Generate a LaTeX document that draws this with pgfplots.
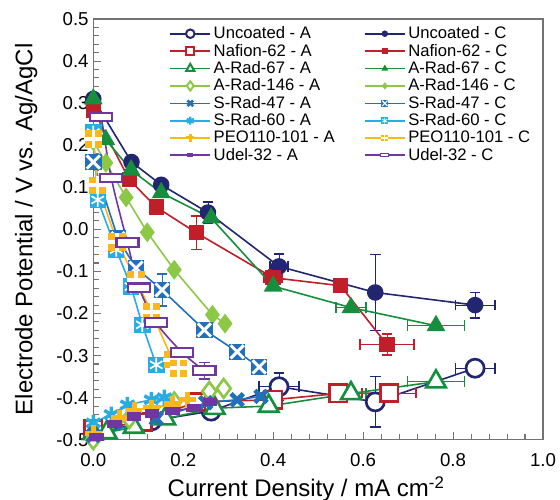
\documentclass[border=0pt]{standalone}
\usepackage{pgfplots}
\pgfplotsset{compat=1.18}
\usepackage{fontspec}
\setmainfont{Liberation Sans}

\definecolor{cUnc}{RGB}{34,38,112}
\definecolor{cNaf}{RGB}{192,30,40}
\definecolor{cA67}{RGB}{22,142,62}
\definecolor{cA146}{RGB}{140,200,70}
\definecolor{cS47}{RGB}{32,112,186}
\definecolor{cS60}{RGB}{40,172,228}
\definecolor{cPEO}{RGB}{250,184,28}
\definecolor{cUdel}{RGB}{112,54,162}

% filled square with a white cross / plus / star cut into it
\pgfdeclareplotmark{sqx}{%
  \pgfpathrectangle{\pgfqpoint{-\pgfplotmarksize}{-\pgfplotmarksize}}{\pgfqpoint{2\pgfplotmarksize}{2\pgfplotmarksize}}%
  \pgfusepathqfill
  \pgfsetstrokecolor{white}\pgfsetlinewidth{0.35\pgfplotmarksize}%
  \pgfpathmoveto{\pgfqpoint{-.8\pgfplotmarksize}{-.8\pgfplotmarksize}}%
  \pgfpathlineto{\pgfqpoint{.8\pgfplotmarksize}{.8\pgfplotmarksize}}%
  \pgfpathmoveto{\pgfqpoint{-.8\pgfplotmarksize}{.8\pgfplotmarksize}}%
  \pgfpathlineto{\pgfqpoint{.8\pgfplotmarksize}{-.8\pgfplotmarksize}}%
  \pgfusepathqstroke}
\pgfdeclareplotmark{sqplus}{%
  \pgfpathrectangle{\pgfqpoint{-\pgfplotmarksize}{-\pgfplotmarksize}}{\pgfqpoint{2\pgfplotmarksize}{2\pgfplotmarksize}}%
  \pgfusepathqfill
  \pgfsetstrokecolor{white}\pgfsetlinewidth{0.4\pgfplotmarksize}%
  \pgfpathmoveto{\pgfqpoint{0pt}{-1.05\pgfplotmarksize}}%
  \pgfpathlineto{\pgfqpoint{0pt}{1.05\pgfplotmarksize}}%
  \pgfpathmoveto{\pgfqpoint{-1.05\pgfplotmarksize}{0pt}}%
  \pgfpathlineto{\pgfqpoint{1.05\pgfplotmarksize}{0pt}}%
  \pgfusepathqstroke}
\pgfdeclareplotmark{sqast}{%
  \pgfpathrectangle{\pgfqpoint{-\pgfplotmarksize}{-\pgfplotmarksize}}{\pgfqpoint{2\pgfplotmarksize}{2\pgfplotmarksize}}%
  \pgfusepathqfill
  \pgfsetstrokecolor{white}\pgfsetlinewidth{0.2\pgfplotmarksize}%
  \pgfpathmoveto{\pgfqpoint{0pt}{-.85\pgfplotmarksize}}%
  \pgfpathlineto{\pgfqpoint{0pt}{.85\pgfplotmarksize}}%
  \pgfpathmoveto{\pgfqpoint{-.75\pgfplotmarksize}{-.45\pgfplotmarksize}}%
  \pgfpathlineto{\pgfqpoint{.75\pgfplotmarksize}{.45\pgfplotmarksize}}%
  \pgfpathmoveto{\pgfqpoint{-.75\pgfplotmarksize}{.45\pgfplotmarksize}}%
  \pgfpathlineto{\pgfqpoint{.75\pgfplotmarksize}{-.45\pgfplotmarksize}}%
  \pgfusepathqstroke}
\pgfdeclareplotmark{wrect}{%
  \pgfpathrectangle{\pgfqpoint{-1.5\pgfplotmarksize}{-.6\pgfplotmarksize}}{\pgfqpoint{3\pgfplotmarksize}{1.2\pgfplotmarksize}}%
  \pgfusepathqfillstroke}
\pgfdeclareplotmark{srect}{%
  \pgfpathrectangle{\pgfqpoint{-1.2\pgfplotmarksize}{-.7\pgfplotmarksize}}{\pgfqpoint{2.4\pgfplotmarksize}{1.4\pgfplotmarksize}}%
  \pgfusepathqfill}

\pgfplotsset{
  ln/.style={line width=1.2pt},
  eb/.style={forget plot, only marks, mark=none, line width=1.2pt,
    error bars/.cd, x dir=both, x explicit, y dir=both, y explicit,
    error mark options={rotate=90, mark size=4pt, line width=1.2pt}},
}

\begin{document}
\begin{tikzpicture}
\useasboundingbox (-70pt,-45pt) rectangle (350.25pt,330pt);
\begin{axis}[
  scale only axis, width=337.5pt, height=315.75pt,
  xmin=0, xmax=1, ymin=-0.5, ymax=0.5,
  xtick={0,0.2,0.4,0.6,0.8,1.0},
  ytick={-0.5,-0.4,-0.3,-0.2,-0.1,0,0.1,0.2,0.3,0.4,0.5},
  minor x tick num=4, minor y tick num=4,
  tick align=inside, tick pos=left,
  major tick length=6pt, minor tick length=4pt,
  axis line style={draw=black!55, line width=1pt},
  every tick/.style={black!55, line width=0.8pt},
  /pgf/number format/.cd, fixed, fixed zerofill, precision=1, assume math mode=true,
  /pgfplots/.cd,
  tick label style={font=\fontsize{14}{16}\selectfont},
  xticklabel style={yshift=-7pt},
  xlabel style={at={(axis description cs:0.5,0)}, anchor=center, yshift=-37pt, xshift=-9pt, font=\fontsize{18}{20}\selectfont},
  ylabel style={at={(axis description cs:-0.158,0.5)}, anchor=center, rotate=0, yshift=-3pt, font=\fontsize{18}{20}\selectfont},
  xlabel={Current Density / mA cm\textsuperscript{-2}},
  ylabel={Electrode Potential / V vs. Ag/AgCl},
  legend columns=2,
  legend cell align=left,
  legend style={draw=none, fill=none, at={(0.16,0.995)}, anchor=north west,
    font=\fontsize{12.5}{14}\selectfont, row sep=-1.5pt,
    /tikz/every even column/.append style={column sep=20pt}},
  legend image code/.code={\draw[mark repeat=2,mark phase=2,#1] plot coordinates {(0pt,0pt)(15pt,0pt)(30pt,0pt)};},
]

% ---------- Uncoated ----------
\addplot[cUnc, eb] coordinates {
  (0.413,-0.374) +- (0.045,0.033)
  (0.627,-0.410) +- (0,0.060)
  (0.849,-0.330) +- (0.044,0.012)
};
\addplot[cUnc, ln, forget plot, mark=*, mark size=6.8pt, mark options={fill=white, line width=2pt}] coordinates {
  (0.000,-0.485) (0.130,-0.455) (0.262,-0.432) (0.413,-0.374) (0.627,-0.410) (0.849,-0.330)
};
\addplot[cUnc, eb] coordinates {
  (0.255,0.040) +- (0,0.025)
  (0.413,-0.088) +- (0.02,0.030)
  (0.627,-0.150) +- (0,0.090)
  (0.849,-0.180) +- (0.044,0.030)
};
\addplot[cUnc, ln, forget plot, mark=*, mark size=5.6pt] coordinates {
  (0.000,0.310) (0.085,0.160) (0.151,0.106) (0.255,0.040) (0.413,-0.088) (0.627,-0.150) (0.849,-0.180)
};

% ---------- Nafion-62 ----------
\addplot[cNaf, eb] coordinates {
  (0.658,-0.389) +- (0.06,0)
};
\addplot[cNaf, ln, forget plot, mark=square*, mark size=6.5pt, mark options={fill=white, line width=2pt}] coordinates {
  (0.000,-0.475) (0.110,-0.458) (0.229,-0.410) (0.400,-0.405) (0.545,-0.390) (0.658,-0.389)
};
\addplot[cNaf, eb] coordinates {
  (0.229,-0.008) +- (0,0.040)
  (0.400,-0.115) +- (0.02,0.020)
  (0.653,-0.274) +- (0.06,0.025)
};
\addplot[cNaf, ln, forget plot, mark=square*, mark size=5.2pt] coordinates {
  (0.000,0.284) (0.080,0.118) (0.140,0.053) (0.229,-0.008) (0.400,-0.115) (0.550,-0.134) (0.653,-0.274)
};

% ---------- A-Rad-67 ----------
\addplot[cA67, eb] coordinates {
  (0.573,-0.390) +- (0.033,0)
  (0.762,-0.362) +- (0.063,0)
};
\addplot[cA67, ln, forget plot, mark=triangle*, mark size=8.5pt, mark options={fill=white, line width=2pt}] coordinates {
  (0.000,-0.485) (0.030,-0.483) (0.090,-0.470) (0.160,-0.450) (0.270,-0.425) (0.390,-0.420) (0.573,-0.390) (0.762,-0.362)
};
\addplot[cA67, eb] coordinates {
  (0.573,-0.186) +- (0.033,0)
  (0.762,-0.229) +- (0.063,0)
};
\addplot[cA67, ln, forget plot, mark=triangle*, mark size=7pt] coordinates {
  (0.000,0.310) (0.028,0.213) (0.084,0.141) (0.151,0.087) (0.262,0.027) (0.400,-0.135) (0.573,-0.186) (0.762,-0.229)
};

% ---------- A-Rad-146 ----------
\addplot[cA146, ln, forget plot, mark=diamond*, mark size=7pt, mark options={fill=white, line width=2pt}] coordinates {
  (0.000,-0.500) (0.080,-0.450) (0.180,-0.410) (0.258,-0.385) (0.290,-0.378)
};
\addplot[cA146, ln, forget plot, mark=diamond*, mark size=6.5pt] coordinates {
  (0.000,0.210) (0.028,0.158) (0.073,0.076) (0.120,-0.007) (0.180,-0.096) (0.265,-0.203) (0.293,-0.224)
};

% ---------- S-Rad-47 ----------
\addplot[cS47, ln, forget plot, mark=x, mark size=6.5pt, mark options={line width=3.5pt}] coordinates {
  (0.000,-0.490) (0.140,-0.450) (0.250,-0.412) (0.320,-0.405) (0.373,-0.397)
};
\addplot[cS47, eb] coordinates {
  (0.153,-0.144) +- (0,0.038)
};
\addplot[cS47, ln, forget plot, mark=sqx, mark size=6.2pt] coordinates {
  (0.000,0.160) (0.055,-0.022) (0.095,-0.092) (0.153,-0.144) (0.247,-0.239) (0.320,-0.291) (0.369,-0.327)
};

% ---------- S-Rad-60 ----------
\addplot[cS60, ln, forget plot, mark=asterisk, mark size=6pt, mark options={line width=2.6pt}] coordinates {
  (0.000,-0.460) (0.040,-0.440) (0.076,-0.417) (0.129,-0.405) (0.158,-0.400)
};
\addplot[cS60, ln, forget plot, mark=sqast, mark size=6.2pt] coordinates {
  (0.000,0.230) (0.010,0.070) (0.051,-0.048) (0.084,-0.136) (0.109,-0.227) (0.140,-0.322)
};

% ---------- PEO110-101 ----------
\addplot[cPEO, ln, forget plot, mark=+, mark size=6.2pt, mark options={line width=4pt}] coordinates {
  (0.000,-0.485) (0.058,-0.448) (0.091,-0.430) (0.129,-0.424) (0.176,-0.415) (0.210,-0.405)
};
\addplot[cPEO, ln, forget plot, mark=sqplus, mark size=6.5pt] coordinates {
  (0.000,0.215) (0.009,0.105) (0.053,-0.030) (0.095,-0.120) (0.129,-0.196) (0.176,-0.310) (0.190,-0.330)
};

% ---------- Udel-32 ----------
\addplot[cUdel, ln, smooth, forget plot, mark=srect, mark size=4.5pt] coordinates {
  (0.007,-0.493) (0.047,-0.462) (0.091,-0.445) (0.131,-0.438) (0.176,-0.431) (0.224,-0.424) (0.260,-0.410)
};
\addplot[cUdel, eb] coordinates {
  (0.247,-0.336) +- (0.026,0.020)
};
\addplot[cUdel, ln, smooth, forget plot, mark=wrect, mark size=5.5pt, mark options={fill=white, line width=1.6pt}] coordinates {
  (0.018,0.267) (0.040,0.122) (0.076,-0.032) (0.102,-0.139) (0.140,-0.222) (0.198,-0.293) (0.247,-0.336)
};

% ---------- legend ----------
\addlegendimage{cUnc, ln, mark=*, mark size=3.2pt, mark options={fill=white, line width=1.5pt}}
\addlegendentry{Uncoated - A}
\addlegendimage{cUnc, ln, mark=*, mark size=1.8pt}
\addlegendentry{Uncoated - C}
\addlegendimage{cNaf, ln, mark=square*, mark size=3pt, mark options={fill=white, line width=1.5pt}}
\addlegendentry{Nafion-62 - A}
\addlegendimage{cNaf, ln, mark=square*, mark size=1.8pt}
\addlegendentry{Nafion-62 - C}
\addlegendimage{cA67, ln, mark=triangle*, mark size=3.5pt, mark options={fill=white, line width=1.5pt}}
\addlegendentry{A-Rad-67 - A}
\addlegendimage{cA67, ln, mark=triangle*, mark size=1.8pt}
\addlegendentry{A-Rad-67 - C}
\addlegendimage{cA146, ln, mark=diamond*, mark size=3.5pt, mark options={fill=white, line width=1.5pt}}
\addlegendentry{A-Rad-146 - A}
\addlegendimage{cA146, ln, mark=diamond*, mark size=1.8pt}
\addlegendentry{A-Rad-146 - C}
\addlegendimage{cS47, ln, mark=x, mark size=3pt, mark options={line width=2pt}}
\addlegendentry{S-Rad-47 - A}
\addlegendimage{cS47, ln, mark=sqx, mark size=2.5pt}
\addlegendentry{S-Rad-47 - C}
\addlegendimage{cS60, ln, mark=asterisk, mark size=3pt, mark options={line width=1.6pt}}
\addlegendentry{S-Rad-60 - A}
\addlegendimage{cS60, ln, mark=sqast, mark size=2.5pt}
\addlegendentry{S-Rad-60 - C}
\addlegendimage{cPEO, ln, mark=+, mark size=3pt, mark options={line width=2.2pt}}
\addlegendentry{PEO110-101 - A}
\addlegendimage{cPEO, ln, mark=sqplus, mark size=2.5pt}
\addlegendentry{PEO110-101 - C}
\addlegendimage{cUdel, ln, mark=srect, mark size=2pt}
\addlegendentry{Udel-32 - A}
\addlegendimage{cUdel, ln, mark=wrect, mark size=2pt, mark options={fill=white, line width=1pt}}
\addlegendentry{Udel-32 - C}
\end{axis}
\end{tikzpicture}
\end{document}
